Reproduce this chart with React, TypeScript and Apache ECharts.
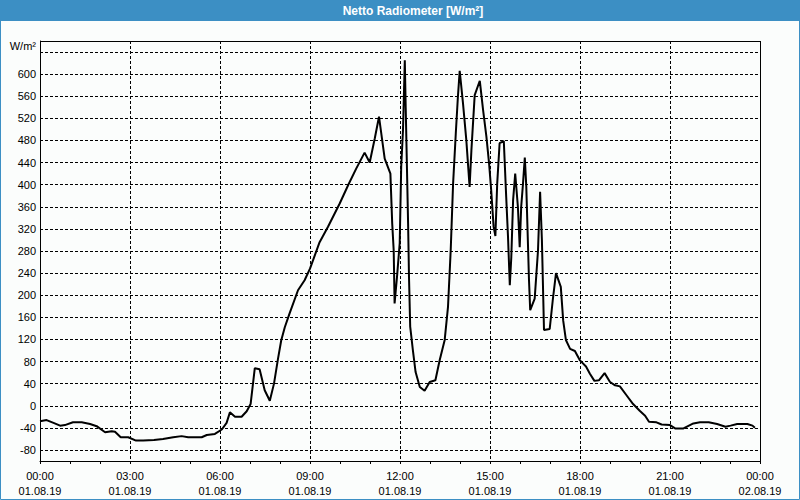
import React, { useEffect, useRef } from "react";
import * as echarts from "echarts";

// Time of day in decimal hours (01.08.19)
const timeHours = [
  0.0, 0.22, 0.45, 0.67, 0.83, 1.1, 1.39, 1.67, 1.89, 2.17, 2.39, 2.5, 2.69, 2.94, 3.2, 3.44, 3.8, 4.1,
  4.44, 4.72, 4.94, 5.39, 5.56, 5.83, 6.06, 6.22, 6.33, 6.5, 6.72, 6.89, 7.02, 7.16, 7.32, 7.49, 7.66,
  7.8, 7.93, 8.04, 8.16, 8.32, 8.6, 8.82, 9.0, 9.16, 9.32, 9.6, 9.99, 10.27, 10.54, 10.82, 10.99, 11.16,
  11.3, 11.49, 11.68, 11.74, 11.79, 11.82, 11.9, 11.99, 12.04, 12.1, 12.16, 12.19, 12.27, 12.3, 12.34,
  12.43, 12.52, 12.66, 12.82, 12.99, 13.18, 13.32, 13.49, 13.6, 13.69, 13.77, 13.86, 13.93, 13.99, 14.1,
  14.21, 14.32, 14.38, 14.49, 14.66, 14.77, 14.88, 14.97, 15.04, 15.12, 15.18, 15.24, 15.32, 15.46, 15.54,
  15.6, 15.66, 15.71, 15.77, 15.84, 15.93, 15.99, 16.04, 16.1, 16.16, 16.21, 16.3, 16.34, 16.49, 16.6,
  16.67, 16.73, 16.8, 16.99, 17.09, 17.2, 17.36, 17.44, 17.53, 17.67, 17.83, 18.0, 18.2, 18.33, 18.48,
  18.63, 18.82, 19.0, 19.17, 19.33, 19.55, 19.77, 19.99, 20.17, 20.3, 20.55, 20.72, 21.0, 21.17, 21.45,
  21.78, 22.0, 22.29, 22.57, 22.85, 23.02, 23.24, 23.58, 23.75, 23.83,
];

// Net radiation in W/m²
const netRadiation = [
  -28, -26, -31, -36, -35, -30, -30, -33, -37, -48, -46, -47, -57, -57, -63, -63, -62, -60,
  -57, -55, -57, -57, -53, -51, -43, -31, -12, -20, -20, -10, 3, 68, 66, 28, 9,
  40, 84, 118, 142, 167, 209, 227, 248, 272, 296, 324, 366, 399, 429, 458, 440, 484,
  523, 447, 420, 330, 281, 185, 233, 294, 432, 499, 625, 540, 330, 233, 143,
  100, 61, 34, 27, 43, 46, 82, 119, 179, 281, 402, 493, 559, 606, 547,
  481, 396, 462, 562, 588, 535, 487, 438, 390, 324, 307, 402, 475, 479, 378,
  306, 218, 269, 372, 420, 360, 287, 360, 402, 449, 396, 227, 173, 194, 281,
  387, 300, 137, 139, 190, 240, 215, 154, 119, 103, 99, 82, 71, 58, 45,
  46, 59, 43, 37, 35, 19, 3, -9, -18, -29, -30, -34, -35, -41, -41,
  -32, -30, -30, -33, -38, -36, -33, -33, -36, -40,
];

const xTimeLabels = ["00:00", "03:00", "06:00", "09:00", "12:00", "15:00", "18:00", "21:00", "00:00"];
const xDateLabels = [
  "01.08.19", "01.08.19", "01.08.19", "01.08.19", "01.08.19",
  "01.08.19", "01.08.19", "01.08.19", "02.08.19",
];

const chartTitle = "Netto Radiometer [W/m²]";
const unitLabel = "W/m²";

const FONT = "'Liberation Sans', Arial, sans-serif";

export default function App() {
  const ref = useRef<HTMLDivElement>(null);

  useEffect(() => {
    if (!ref.current) return;
    const chart = echarts.init(ref.current, undefined, { renderer: "svg" });
    const seriesData = timeHours.map((h, i) => [h, netRadiation[i]]);

    const option: any = {
      animation: false,
      backgroundColor: "#fbfdfc",
      grid: [
        { left: 40, top: 41, width: 720, height: 420, containLabel: false },
        { left: 40, top: 52, width: 720, height: 398, containLabel: false },
      ],
      xAxis: [
        {
          type: "value",
          gridIndex: 0,
          min: 0,
          max: 24,
          interval: 3,
          axisLine: { show: true, onZero: false, lineStyle: { color: "#000", width: 1 } },
          axisTick: { show: true, length: 3, lineStyle: { color: "#000" } },
          minorTick: { show: true, splitNumber: 3, length: 3, lineStyle: { color: "#000" } },
          splitLine: { show: true, lineStyle: { color: "#000", type: [3, 2], width: 1 } },
          axisLabel: {
            margin: 7,
            color: "#000",
            fontFamily: FONT,
            fontSize: 11,
            lineHeight: 15,
            formatter: (v: number) => {
              const i = Math.round(v / 3);
              return xTimeLabels[i] + "\n" + xDateLabels[i];
            },
          },
        },
        {
          type: "value",
          gridIndex: 1,
          min: 0,
          max: 24,
          show: false,
          axisLine: { show: false, onZero: false },
        },
      ],
      yAxis: [
        {
          type: "value",
          gridIndex: 0,
          min: -100,
          max: 660,
          axisLine: { show: true, onZero: false, lineStyle: { color: "#000", width: 1 } },
          axisTick: { show: false },
          axisLabel: { show: false },
          splitLine: { show: false },
        },
        {
          type: "value",
          gridIndex: 1,
          min: -80,
          max: 640,
          interval: 40,
          axisLine: { show: false, onZero: false },
          axisTick: { show: false },
          axisLabel: {
            margin: 4,
            color: "#000",
            fontFamily: FONT,
            fontSize: 11,
            showMaxLabel: false,
          },
          splitLine: { show: true, lineStyle: { color: "#000", type: [3, 2], width: 1 } },
        },
      ],
      series: [
        {
          type: "line",
          xAxisIndex: 0,
          yAxisIndex: 0,
          data: seriesData,
          showSymbol: false,
          symbol: "none",
          lineStyle: { color: "#000", width: 2 },
          clip: true,
          z: 5,
        },
      ],
      graphic: [
        {
          type: "rect",
          shape: { x: 0, y: 0, width: 800, height: 21 },
          style: { fill: "#3c8fc4" },
          silent: true,
        },
        {
          type: "rect",
          shape: { x: 0.5, y: 0.5, width: 799, height: 499 },
          style: { fill: "none", stroke: "#3c8fc4", lineWidth: 1 },
          silent: true,
        },
        {
          type: "text",
          x: 413,
          y: 10.5,
          style: {
            text: chartTitle,
            fill: "#fff",
            font: `bold 12px ${FONT}`,
            align: "center",
            verticalAlign: "middle",
          },
          silent: true,
        },
        {
          type: "text",
          x: 36,
          y: 46,
          style: {
            text: unitLabel,
            fill: "#000",
            font: `11px ${FONT}`,
            align: "right",
            verticalAlign: "middle",
          },
          silent: true,
        },
        {
          type: "rect",
          shape: { x: 40.5, y: 41.5, width: 720, height: 420 },
          style: { fill: "none", stroke: "#000", lineWidth: 1 },
          silent: true,
          z: 10,
        },
      ],
    };

    chart.setOption(option);
    return () => chart.dispose();
  }, []);

  return (
    <div
      ref={ref}
      style={{ position: "fixed", left: 0, top: 0, width: 800, height: 500, background: "#fbfdfc" }}
    />
  );
}
